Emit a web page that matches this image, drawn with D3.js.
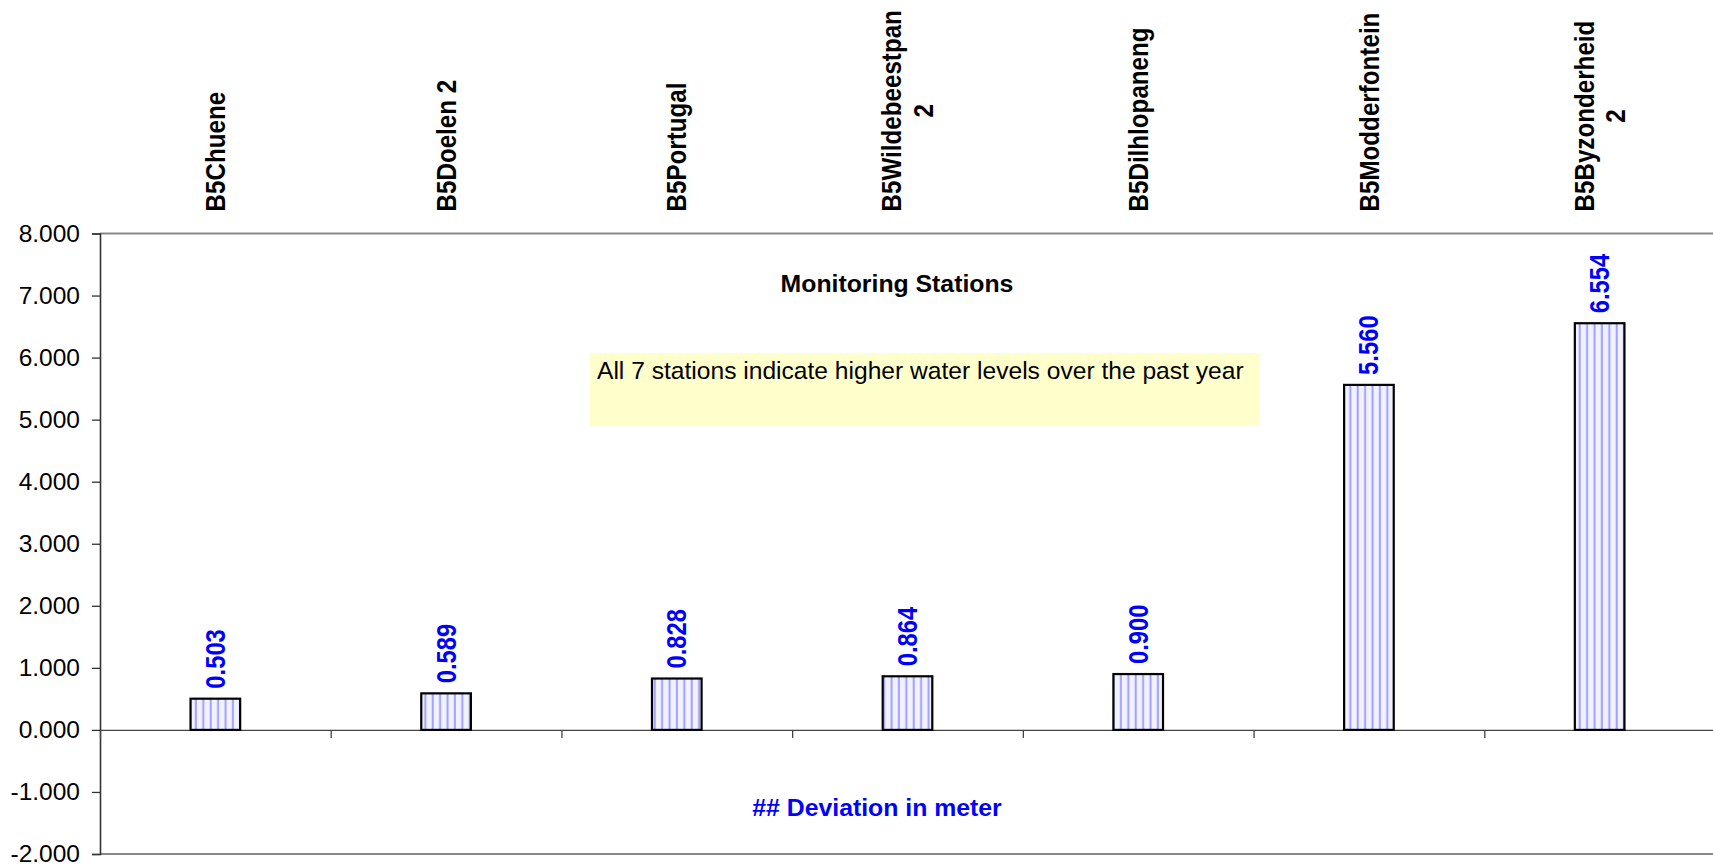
<!DOCTYPE html>
<html>
<head>
<meta charset="utf-8">
<script src="https://cdn.jsdelivr.net/npm/d3@7"></script>
<style>
  html, body { margin: 0; padding: 0; background: #ffffff; }
  svg { display: block; }
  text { font-family: "Liberation Sans", Arial, Helvetica, sans-serif; }
</style>
</head>
<body>
<svg id="chart" width="1713" height="867"></svg>
<script>
// ---- data ----
const categories = ["B5Chuene", "B5Doelen 2", "B5Portugal", "B5Wildebeestpan\n2", "B5Dilhlopaneng", "B5Modderfontein", "B5Byzonderheid\n2"];
const values = [0.503, 0.589, 0.828, 0.864, 0.900, 5.560, 6.554];
const yTicks = [-2, -1, 0, 1, 2, 3, 4, 5, 6, 7, 8];
const axisTitle = "Monitoring Stations";
const valueTitle = "## Deviation in meter";
const note = "All 7 stations indicate higher water levels over the past year";

// ---- layout ----
const svg = d3.select("#chart");
const W = 1713, H = 867;
const plotLeft = 100, plotRight = 1715, plotTop = 233.5, plotBottom = 854;
const sx = 1.14; // horizontal stretch of rotated glyphs

const x = d3.scaleBand().domain(d3.range(categories.length)).range([plotLeft, plotRight]).padding(0);
const y = d3.scaleLinear().domain([-2, 8]).range([plotBottom, plotTop]);
const barW = x.bandwidth() * 0.215;
const fmt = v => d3.format(".3f")(v).replace("\u2212", "-");

// hatch pattern
const defs = svg.append("defs");
const pat = defs.append("pattern").attr("id", "vhatch").attr("patternUnits", "userSpaceOnUse")
  .attr("width", 7.4).attr("height", 10);
pat.append("rect").attr("width", 7.4).attr("height", 10).attr("fill", "#f2f2ff");
pat.append("rect").attr("x", 2.5).attr("width", 2).attr("height", 10).attr("fill", "#a0a0ff");

// top and bottom frame lines
svg.append("line").attr("x1", plotLeft).attr("x2", W).attr("y1", y(8)).attr("y2", y(8))
  .attr("stroke", "#8a8a8a").attr("stroke-width", 2.2);
svg.append("line").attr("x1", plotLeft).attr("x2", W).attr("y1", y(-2)).attr("y2", y(-2))
  .attr("stroke", "#8a8a8a").attr("stroke-width", 2.2);

// annotation box
svg.append("rect").attr("x", 590).attr("y", 353).attr("width", 669).attr("height", 72).attr("fill", "#ffffcc");
svg.append("text").attr("x", 597).attr("y", 379).attr("font-size", 24.6).attr("fill", "#000").text(note);

// titles inside plot
svg.append("text").attr("x", 897).attr("y", 291.5).attr("text-anchor", "middle")
  .attr("font-size", 24.8).attr("font-weight", "bold").attr("fill", "#000").text(axisTitle);
svg.append("text").attr("x", 877).attr("y", 816).attr("text-anchor", "middle")
  .attr("font-size", 24.8).attr("font-weight", "bold").attr("fill", "#0000ff").text(valueTitle);

// y axis
const yAxis = d3.axisLeft(y).tickValues(yTicks).tickFormat(fmt).tickSize(8).tickPadding(12);
const gy = svg.append("g").attr("transform", `translate(${plotLeft},0)`).call(yAxis);
gy.select(".domain").attr("stroke", "#333").attr("stroke-width", 1.6);
gy.selectAll(".tick line").attr("stroke", "#333").attr("stroke-width", 1.3);
gy.selectAll(".tick text").attr("font-size", 24.5).attr("fill", "#000")
  .attr("font-family", "'Liberation Sans', Arial, sans-serif");

// zero line + category ticks
const xAxis = d3.axisBottom(d3.scaleLinear().domain([0, categories.length]).range([plotLeft, plotRight]))
  .tickValues(d3.range(1, categories.length + 1)).tickSize(8).tickFormat("");
const gx = svg.append("g").attr("transform", `translate(0,${y(0)})`).call(xAxis);
gx.select(".domain").attr("stroke", "#444").attr("stroke-width", 1.2);
gx.selectAll(".tick line").attr("stroke", "#444").attr("stroke-width", 1.3);

// bars
svg.append("g").selectAll("rect").data(values).join("rect")
  .attr("x", (d, i) => x(i) + x.bandwidth() / 2 - barW / 2)
  .attr("y", d => y(Math.max(0, d)))
  .attr("width", barW)
  .attr("height", d => Math.abs(y(d) - y(0)))
  .attr("fill", "url(#vhatch)")
  .attr("stroke", "#000").attr("stroke-width", 2.2);

// value labels
svg.append("g").selectAll("text").data(values).join("text")
  .attr("transform", (d, i) => `translate(${x(i) + x.bandwidth() / 2},${y(d) - 10}) scale(${sx},1) rotate(-90)`)
  .attr("dy", "0.35em")
  .attr("text-anchor", "start")
  .attr("font-size", 23.8).attr("font-weight", "bold").attr("fill", "#0000ff")
  .text(d => fmt(d));

// category labels (rotated, top)
const labelEnd = 211.5, lineGap = 31.6;
const gl = svg.append("g");
categories.forEach((c, i) => {
  const lines = c.split("\n");
  const cx = x(i) + x.bandwidth() / 2;
  let maxLen = 0;
  const tmp = gl.append("text").attr("font-size", 24.2).attr("font-weight", "bold");
  lines.forEach(l => { tmp.text(l); maxLen = Math.max(maxLen, tmp.node().getComputedTextLength()); });
  tmp.remove();
  const yc = labelEnd - maxLen / 2;
  lines.forEach((l, j) => {
    const lx = cx + (j - (lines.length - 1) / 2) * lineGap;
    gl.append("text")
      .attr("transform", `translate(${lx},${yc}) scale(${sx},1) rotate(-90)`)
      .attr("dy", "0.35em").attr("text-anchor", "middle")
      .attr("font-size", 24.2).attr("font-weight", "bold").attr("fill", "#000")
      .text(l);
  });
});
</script>
</body>
</html>
